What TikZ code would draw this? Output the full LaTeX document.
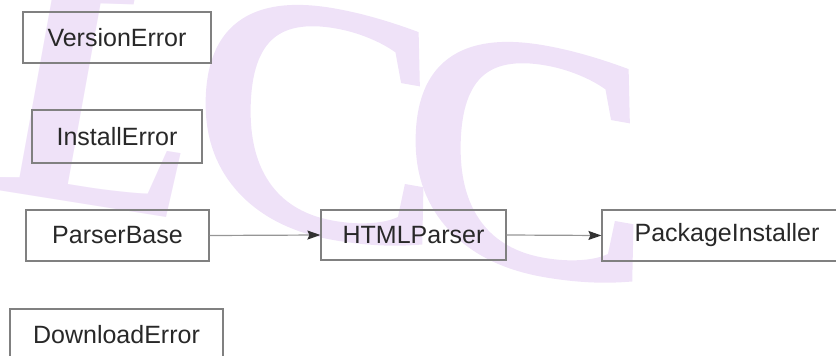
\documentclass[tikz,border=0pt]{standalone}
\usepackage{fontspec}
\setmainfont{Liberation Sans}
\newfontfamily\wmfont[FakeBold=2]{Liberation Serif}
\newfontfamily\wmitfont{Liberation Serif}[UprightFont=*-Bold Italic]
\usetikzlibrary{arrows.meta}
\definecolor{wmcol}{RGB}{239,226,248}
\definecolor{boxline}{RGB}{128,128,128}
\definecolor{boxtext}{RGB}{40,40,40}
\definecolor{edgeline}{RGB}{150,150,150}
\definecolor{headcol}{RGB}{50,50,50}
\tikzset{
  wmletter/.style={transform shape, anchor=base west, inner sep=0pt, text=wmcol,
    font=\wmfont\fontsize{335}{335}\selectfont},
  classbox/.style={draw=boxline, line width=1.2pt, rectangle, inner sep=0pt,
    text=boxtext, font=\fontsize{25}{28}\selectfont, minimum height=51pt},
  inherit/.style={draw=edgeline, line width=1.2pt,
    -{Stealth[length=13pt,width=9pt,inset=2pt,color=headcol]}}
}
\begin{document}
\begin{tikzpicture}[x=1pt,y=-1pt]
  \useasboundingbox (0,0) rectangle (836,356);
  \begin{scope}
    \clip (0,0) rectangle (836,356);
    % sheared watermark lettering
    \begin{scope}[shift={(-9,189)}, cm={1,-0.16,0,1,(0,0)}]
      \node[wmletter, font=\wmitfont\fontsize{335}{335}\selectfont] (wmL) at (0,0) {L};
    \end{scope}
    \begin{scope}[shift={(194,209)}, cm={1.1,-0.1925,0,1,(0,0)}]
      \node[wmletter] (wmC1) at (0,0) {C};
    \end{scope}
    \begin{scope}[shift={(404,246)}, cm={1.1,-0.1925,0,1,(0,0)}]
      \node[wmletter] (wmC2) at (0,0) {C};
    \end{scope}
    % classes
    \node[classbox, minimum width=188pt] (version) at (117,37.5) {VersionError};
    \node[classbox, minimum width=170pt, minimum height=53pt] (install) at (117,136.5) {InstallError};
    \node[classbox, minimum width=183pt] (parser) at (117.5,235.5) {ParserBase};
    \node[classbox, minimum width=185pt, minimum height=50pt] (html) at (413.5,235) {HTMLParser};
    \node[classbox, minimum width=250pt] (pkg) at (727,235.5) {PackageInstaller};
    \node[classbox, minimum width=213pt] (download) at (116.5,334.5) {DownloadError};
  \end{scope}
  % inheritance edges
  \draw[inherit] (parser.east) -- (html.west);
  \draw[inherit] (html.east) -- (pkg.west);
\end{tikzpicture}
\end{document}
